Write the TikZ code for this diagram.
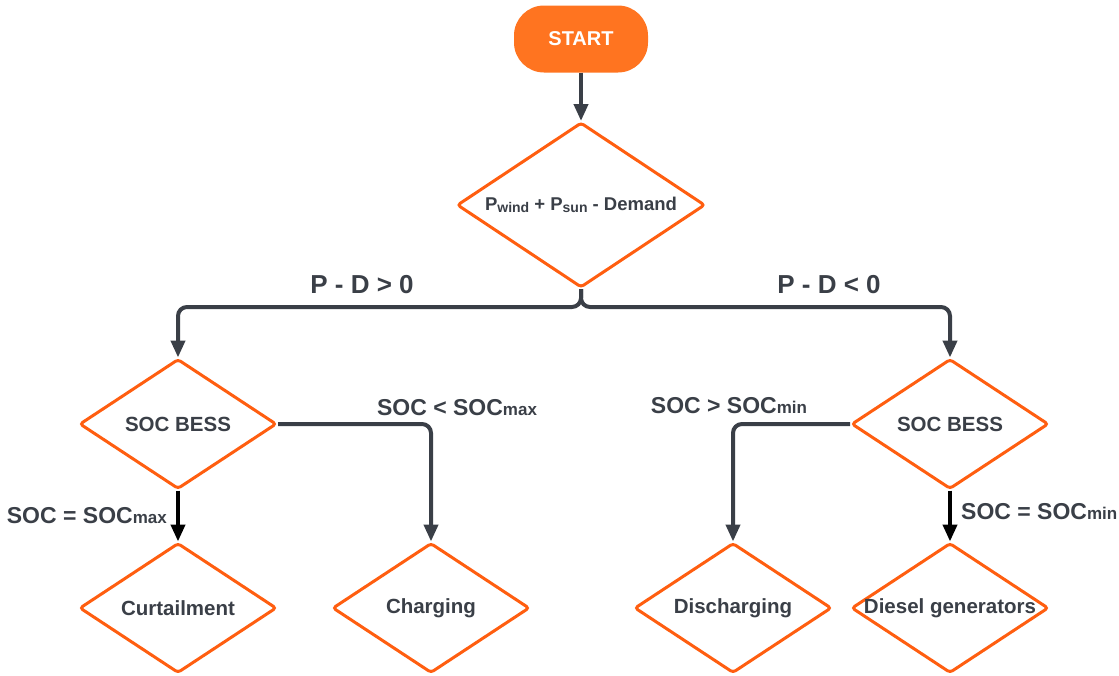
\documentclass[tikz,border=0pt]{standalone}
\usepackage{fontspec}
\setmainfont{Liberation Sans}
\usetikzlibrary{shapes.geometric,arrows.meta}
\definecolor{orng}{RGB}{255,94,16}
\definecolor{startfill}{RGB}{255,116,32}
\definecolor{ink}{RGB}{58,63,71}
\newcommand{\smalltxt}[1]{{\fontsize{17}{17}\selectfont #1}}
\newcommand{\subtxt}[1]{\raisebox{-1.5pt}{\fontsize{14}{14}\selectfont #1}}
\begin{document}
\begin{tikzpicture}[x=1pt,y=-1pt,
  dia/.style={diamond, draw=orng, line width=3pt, fill=white,
    minimum width=197pt, minimum height=130pt, inner sep=0pt,
    rounded corners=3pt, text=ink, font=\fontsize{20.5}{24}\selectfont\bfseries},
  startbox/.style={rectangle, fill=startfill, rounded corners=30pt,
    minimum width=134pt, minimum height=67pt, inner sep=0pt,
    text=white, font=\fontsize{20}{24}\selectfont\bfseries},
  conn/.style={draw=ink, line width=4pt, rounded corners=9pt,
    -{Triangle[length=17pt,width=14pt]}},
  blackconn/.style={draw=black, line width=4pt,
    -{Triangle[length=17pt,width=14pt]}},
  lbl/.style={text=ink, inner sep=0pt, font=\fontsize{23}{27}\selectfont\bfseries},
  biglbl/.style={text=ink, inner sep=0pt, font=\fontsize{26}{30}\selectfont\bfseries}
]
\useasboundingbox (0,0) rectangle (1119,675);

\node[startbox] (start) at (581,39) {START};
\node[dia, minimum width=248pt, minimum height=165pt, font=\fontsize{18.5}{22}\selectfont\bfseries] (main) at (581,205)
  {\makebox[0pt]{P\subtxt{wind} + P\subtxt{sun} - Demand}};

\node[dia] (socl) at (178,424) {\makebox[0pt]{SOC BESS}};
\node[dia] (socr) at (950,424) {\makebox[0pt]{SOC BESS}};

\node[dia] (curt) at (178,608) {\makebox[0pt]{Curtailment}};
\node[dia] (charg) at (431,608) {\makebox[0pt]{Charging}};
\node[dia] (disch) at (733,608) {\makebox[0pt]{Discharging}};
\node[dia] (diesel) at (950,608) {\makebox[0pt]{Diesel generators}};

\coordinate (split) at (581,307);

\draw[conn] (start) -- (main);
\draw[conn] (main.south) -- (split) -| (socl.north);
\draw[conn] (main.south) -- (split) -| (socr.north);
\draw[conn] (socl.east) -| (charg.north);
\draw[conn] (socr.west) -| (disch.north);
\draw[blackconn] (socl.south) -- (curt.north);
\draw[blackconn] (socr.south) -- (diesel.north);

\node[biglbl] (lpd) at (362,285) {P - D > 0};
\node[biglbl] (rpd) at (829,285) {P - D < 0};
\node[lbl] (lmax) at (457,408) {SOC < SOC\smalltxt{max}};
\node[lbl] (rmin) at (729,406) {SOC > SOC\smalltxt{min}};
\node[lbl, anchor=east] (leq) at (167,516) {SOC = SOC\smalltxt{max}};
\node[lbl, anchor=west] (req) at (961,512) {SOC = SOC\smalltxt{min}};
\end{tikzpicture}
\end{document}
